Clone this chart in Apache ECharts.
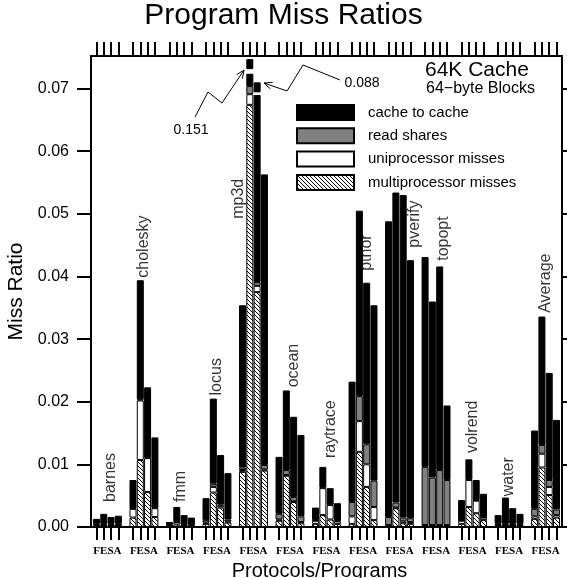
<!DOCTYPE html>
<html>
<head>
<meta charset="utf-8">
<script src="https://cdn.jsdelivr.net/npm/echarts@6/dist/echarts.min.js"></script>
<style>
html, body { margin: 0; padding: 0; background: #fff; }
#main { width: 567px; height: 578px; }
</style>
</head>
<body>
<div id="main"></div>
<script>
// programs, each with 4 protocol bars (F, E, S, A)
var programs = ['barnes', 'cholesky', 'fmm', 'locus', 'mp3d', 'ocean', 'raytrace',
	'ptnor', 'pverify', 'topopt', 'volrend', 'water', 'Average'];
var protocols = ['F', 'E', 'S', 'A'];

// stacked segments, bottom to top
var multiMiss = [
	[0.0002, 0.0002, 0.0002, 0.0002], [0.0015, 0.0107, 0.0056, 0.0016], [0.0002, 0.0004, 0.0002, 0.0002],
	[0.0005, 0.0055, 0.0031, 0.0007], [0.0088, 0.0674, 0.0375, 0.0090], [0.0010, 0.0082, 0.0040, 0.0006],
	[0.0005, 0.0019, 0.0012, 0.0005], [0.0005, 0.0120, 0.0064, 0.0011], [0.0002, 0.0030, 0.0006, 0.0005],
	[0.0002, 0.0002, 0.0002, 0.0002], [0.0005, 0.0032, 0.0022, 0.0011], [0.0002, 0.0002, 0.0002, 0.0002],
	[0.0013, 0.0095, 0.0051, 0.0015]
];
var uniMiss = [
	[0.0001, 0.0001, 0.0001, 0.0001], [0.0014, 0.0095, 0.0054, 0.0014], [0.0001, 0.0004, 0.0001, 0.0001],
	[0.0002, 0.0009, 0.0003, 0.0002], [0.0003, 0.0017, 0.0010, 0.0002], [0.0002, 0.0001, 0.0001, 0.0002],
	[0.0005, 0.0043, 0.0023, 0.0004], [0.0012, 0.0049, 0.0036, 0.0021], [0.0001, 0.0001, 0.0003, 0.0003],
	[0.0001, 0.0001, 0.0001, 0.0001], [0.0005, 0.0043, 0.0020, 0.0004], [0.0001, 0.0001, 0.0001, 0.0001],
	[0.0004, 0.0022, 0.0013, 0.0004]
];
var readShares = [
	[0.0002, 0.0002, 0.0002, 0.0002], [0.0001, 0.0002, 0.0001, 0.0001], [0.0001, 0.0001, 0.0001, 0.0001],
	[0.0004, 0.0005, 0.0002, 0.0003], [0.0004, 0.0013, 0.0006, 0.0007], [0.0009, 0.0008, 0.0007, 0.0009],
	[0.0001, 0.0001, 0.0001, 0.0001], [0.0023, 0.0040, 0.0032, 0.0042], [0.0013, 0.0008, 0.0006, 0.0006],
	[0.0093, 0.0076, 0.0088, 0.0072], [0.0001, 0.0001, 0.0001, 0.0001], [0.0002, 0.0002, 0.0002, 0.0002],
	[0.0012, 0.0014, 0.0011, 0.0009]
];
var cacheToCache = [
	[0.0008, 0.0016, 0.0011, 0.0013], [0.0045, 0.0190, 0.0112, 0.0112], [0.0004, 0.0023, 0.0015, 0.0011],
	[0.0035, 0.0136, 0.0079, 0.0074], [0.0259, 0.0020, 0.0299, 0.0464], [0.0091, 0.0127, 0.0128, 0.0130],
	[0.0020, 0.0033, 0.0026, 0.0028], [0.0192, 0.0296, 0.0258, 0.0280], [0.0472, 0.0495, 0.0515, 0.0412],
	[0.0335, 0.0281, 0.0325, 0.0119], [0.0032, 0.0032, 0.0032, 0.0037], [0.0014, 0.0042, 0.0025, 0.0016],
	[0.0125, 0.0205, 0.0171, 0.0143]
];
// mp3d E and S run off the chart: white break, then a black cap
var breakGap = [];
var brokenCap = [];
programs.forEach(function(p, g) {
	breakGap[g] = [0, 0, 0, 0];
	brokenCap[g] = [0, 0, 0, 0];
});
breakGap[4] = [0, 0.0007, 0.0004, 0];
brokenCap[4] = [0, 0.0016, 0.0016, 0];

var yTicks = [0, 0.01, 0.02, 0.03, 0.04, 0.05, 0.06, 0.07];
// where each program name sits: slot on the x axis, bottom of the text
var labelSlot = [5, 14, 24, 34, 40, 55, 65, 75, 88, 96, 104, 114, 124];
var labelAt = [0.0040, 0.0398, 0.0040, 0.0210, 0.0492, 0.0223, 0.0110, 0.0409, 0.0446, 0.0425, 0.0118, 0.0049, 0.0342];

var FONT = 'Liberation Sans';
var SLOTS = programs.length * 10 - 1;

function slotNames() {
	var s = [];
	for(var i = 0; i < SLOTS; i++) s.push(String(i));
	return s;
}

function slotData(arr) {
	var d = [];
	for(var i = 0; i < SLOTS; i++) d.push('-');
	for(var g = 0; g < arr.length; g++) {
		for(var k = 0; k < 4; k++) {
			if(arr[g][k]) d[10 * g + 2 * k + 1] = arr[g][k];
		}
	}
	return d;
}

function hatch() {
	var c = document.createElement('canvas');
	c.width = 4;
	c.height = 4;
	var ctx = c.getContext('2d');
	ctx.fillStyle = '#fff';
	ctx.fillRect(0, 0, 4, 4);
	ctx.strokeStyle = '#000';
	ctx.lineWidth = 1;
	ctx.beginPath();
	ctx.moveTo(-1, -1); ctx.lineTo(5, 5);
	ctx.moveTo(-1, 3); ctx.lineTo(1, 5);
	ctx.moveTo(3, -1); ctx.lineTo(5, 1);
	ctx.stroke();
	return c;
}

function barSeries(name, arr, color, border) {
	return {
		name: name,
		type: 'bar',
		stack: 'miss',
		barWidth: 7,
		data: slotData(arr),
		itemStyle: { color: color, borderColor: '#000', borderWidth: border },
		emphasis: { disabled: true },
		silent: true
	};
}

function tickAt(i) { return i % 2 === 1 && i % 10 !== 9; }

function arrow(points) {
	var n = points.length;
	var t = points[n - 1], p = points[n - 2];
	var dx = t[0] - p[0], dy = t[1] - p[1];
	var len = Math.sqrt(dx * dx + dy * dy);
	dx /= len; dy /= len;
	var L = 8, W = 3.5;
	return [
		{ type: 'polyline', shape: { points: points }, style: { stroke: '#000', lineWidth: 1, fill: null } },
		{ type: 'polyline', shape: { points: [
			[t[0] - L * dx + W * dy, t[1] - L * dy - W * dx], t, [t[0] - L * dx - W * dy, t[1] - L * dy + W * dx]
		] }, style: { stroke: '#000', lineWidth: 1, fill: null } }
	];
}

var mychart = echarts.init(document.getElementById('main'));

function xAxisOf(pos, extra) {
	var ax = {
		type: 'category',
		position: pos,
		data: slotNames(),
		boundaryGap: true,
		axisLine: { onZero: false, lineStyle: { color: '#000', width: 2 } },
		axisTick: { show: true, inside: false, alignWithLabel: true, interval: tickAt,
			length: pos == 'top' ? 14 : 13, lineStyle: { color: '#000', width: 2 } },
		axisLabel: { show: false }
	};
	for(var key in extra) ax[key] = extra[key];
	return ax;
}

function yAxisOf(pos, extra) {
	var ax = {
		type: 'value',
		position: pos,
		min: 0,
		max: 0.0752,
		splitLine: { show: false },
		axisLine: { show: true, onZero: false, lineStyle: { color: '#000', width: 2 } },
		axisTick: { show: true, inside: false, customValues: yTicks,
			length: pos == 'left' ? 14 : 6, lineStyle: { color: '#000', width: 2 } },
		axisLabel: { show: false }
	};
	for(var key in extra) ax[key] = extra[key];
	return ax;
}

var option = {
	animation: false,
	title: {
		text: 'Program Miss Ratios',
		left: 'center',
		top: 1,
		padding: 0,
		textStyle: { fontFamily: FONT, fontSize: 30, fontWeight: 'normal', color: '#000' }
	},
	legend: {
		data: ['cache to cache', 'read shares', 'uniprocessor misses', 'multiprocessor misses'],
		orient: 'vertical',
		left: 296,
		top: 104,
		padding: 0,
		itemWidth: 57,
		itemHeight: 15,
		itemGap: 6.3,
		icon: 'rect',
		selectedMode: false,
		textStyle: { fontFamily: FONT, fontSize: 15, color: '#000', padding: [0, 0, 0, 9] }
	},
	grid: { left: 91, right: 5, top: 56, bottom: 51, containLabel: false, outerBoundsMode: 'none' },
	xAxis: [
		xAxisOf('bottom', {
			name: 'Protocols/Programs',
			nameLocation: 'middle',
			nameGap: 29,
			nameTextStyle: { fontFamily: FONT, fontSize: 20, color: '#000', padding: [0, 14, 0, 0] },
			axisLabel: {
				show: true,
				interval: function(i) { return i % 10 === 4; },
				formatter: function() { return protocols.join(''); },
				margin: 19,
				fontFamily: 'Liberation Serif',
				fontWeight: 'bold',
				fontSize: 11,
				color: '#000'
			}
		}),
		xAxisOf('top', {})
	],
	yAxis: [
		yAxisOf('left', {
			name: 'Miss Ratio',
			nameLocation: 'middle',
			nameGap: 53,
			nameTextStyle: { fontFamily: FONT, fontSize: 21, color: '#000' },
			axisLabel: {
				show: true,
				customValues: yTicks,
				formatter: function(v) { return v.toFixed(2); },
				margin: 22,
				fontFamily: FONT,
				fontSize: 16,
				color: '#000'
			}
		}),
		yAxisOf('right', {})
	],
	series: [
		barSeries('multiprocessor misses', multiMiss, { image: hatch(), repeat: 'repeat' }, 1),
		barSeries('uniprocessor misses', uniMiss, '#fff', 1),
		barSeries('read shares', readShares, '#808080', 1),
		barSeries('cache to cache', cacheToCache, '#000', 1),
		barSeries('break', breakGap, '#fff', 0),
		barSeries('cap', brokenCap, '#000', 1),
		{
			type: 'scatter',
			symbolSize: 0,
			silent: true,
			data: programs.map(function(p, g) {
				return { name: p, value: [labelSlot[g], labelAt[g]] };
			}),
			label: {
				show: true,
				position: 'inside',
				formatter: '{b}',
				rotate: 90,
				align: 'left',
				verticalAlign: 'middle',
				fontFamily: FONT,
				fontSize: 16,
				color: '#000'
			}
		}
	],
	graphic: [
		{ type: 'text', left: 425, top: 60, style: { text: '64K Cache', fontFamily: FONT, fontSize: 21, fill: '#000' } },
		{ type: 'text', left: 426, top: 81, style: { text: '64\u2212byte Blocks', fontFamily: FONT, fontSize: 16, fill: '#000' } },
		{ type: 'text', x: 191, y: 130, style: { text: '0.151', fontFamily: FONT, fontSize: 14, fill: '#000', align: 'center', verticalAlign: 'middle' } },
		{ type: 'text', x: 362, y: 83, style: { text: '0.088', fontFamily: FONT, fontSize: 14, fill: '#000', align: 'center', verticalAlign: 'middle' } }
	].concat(arrow([[195, 117], [208, 92], [222, 103], [244, 70]]))
	 .concat(arrow([[340, 80], [303, 65], [287, 91], [264, 83]]))
};
mychart.setOption(option);
</script>
</body>
</html>
